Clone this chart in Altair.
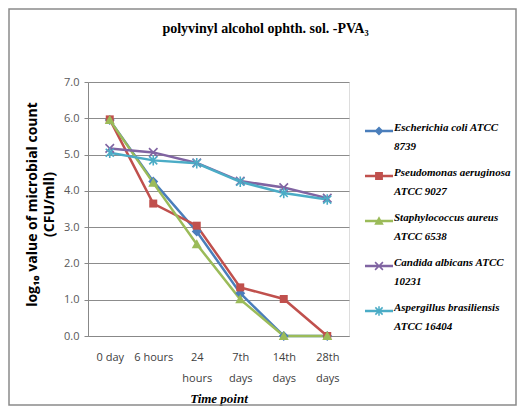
import math
import altair as alt
import pandas as pd

# ---------------- data ----------------
times = ["0 day", "6 hours", "24 hours", "7th days", "14th days", "28th days"]
series = [
    "Escherichia coli ATCC 8739",
    "Pseudomonas aeruginosa ATCC 9027",
    "Staphylococcus aureus ATCC 6538",
    "Candida albicans ATCC 10231",
    "Aspergillus brasiliensis ATCC 16404",
]
legend_lines = [
    ["Escherichia coli ATCC", "8739"],
    ["Pseudomonas aeruginosa", "ATCC 9027"],
    ["Staphylococcus aureus", "ATCC 6538"],
    ["Candida albicans ATCC", "10231"],
    ["Aspergillus brasiliensis", "ATCC 16404"],
]
ecoli = [5.95, 4.26, 2.88, 1.18, 0.0, 0.0]
pseudomonas = [5.97, 3.65, 3.04, 1.34, 1.02, 0.0]
staph = [5.95, 4.22, 2.53, 1.01, 0.0, 0.0]
candida = [5.17, 5.06, 4.77, 4.27, 4.09, 3.80]
aspergillus = [5.05, 4.84, 4.76, 4.25, 3.94, 3.76]
values = [ecoli, pseudomonas, staph, candida, aspergillus]
colors = ["#4A7EBB", "#C0504D", "#9BBB59", "#8064A2", "#4BACC6"]

rows = []
for s, vals in zip(series, values):
    for t, v in zip(times, vals):
        rows.append({"series": s, "time": t, "value": v})
df = pd.DataFrame(rows)

# ---------------- marker shapes (unit box [-1,1]) ----------------
def poly(pts):
    area = sum(pts[i][0] * pts[(i + 1) % len(pts)][1] - pts[(i + 1) % len(pts)][0] * pts[i][1]
               for i in range(len(pts)))
    if area < 0:
        pts = pts[::-1]
    return "M" + "L".join(f"{x:.3f},{y:.3f}" for x, y in pts) + "Z"

def bar(x1, y1, x2, y2, t):
    L = math.hypot(x2 - x1, y2 - y1)
    nx, ny = -(y2 - y1) / L * t, (x2 - x1) / L * t
    return poly([(x1 + nx, y1 + ny), (x2 + nx, y2 + ny), (x2 - nx, y2 - ny), (x1 - nx, y1 - ny)])

def diamond(s):
    return poly([(0, -s), (s, 0), (0, s), (-s, 0)])

def square(s):
    return poly([(-s, -s), (s, -s), (s, s), (-s, s)])

def triangle(s):
    return poly([(0, -s), (s, 0.8 * s), (-s, 0.8 * s)])

def xmark(s, t):
    return bar(-s, -s, s, s, t) + bar(-s, s, s, -s, t)

def asterisk(s, t):
    return xmark(s, t) + bar(0, -s * 1.3, 0, s * 1.3, t)

marker_paths = [diamond(1.0), square(0.8), triangle(1.0), xmark(0.85, 0.16), asterisk(0.8, 0.16)]
lb = bar(-1, 0, 1, 0, 0.09)
legend_paths = [
    lb + diamond(0.32),
    lb + square(0.28),
    lb + triangle(0.34),
    lb + xmark(0.28, 0.055),
    lb + asterisk(0.26, 0.055),
]

# legend label expression (two lines)
expr = "datum.label"
for s, ll in zip(series[::-1], legend_lines[::-1]):
    expr = f"datum.label == '{s}' ? ['{ll[0]}', '{ll[1]}'] : ({expr})"

x_label_expr = "datum.label == '0 day' || datum.label == '6 hours' ? datum.label : split(datum.label, ' ')"

W, H = 261, 254
PL, PT, PR, PB = 80, 74, 168, 70

x_enc = alt.X(
    "time:N",
    sort=times,
    scale=alt.Scale(type="point", padding=0.5),
    axis=alt.Axis(
        title="Time point",
        labelAngle=0,
        labelExpr=x_label_expr,
        labelFont="Open Sans",
        labelFontSize=11,
        labelColor="#404040",
        labelLineHeight=21,
        labelBaseline="top",
        labelPadding=15,
        ticks=False,
        tickSize=0,
        domainColor="#888888",
        domainWidth=1,
        titleFont="Liberation Serif",
        titleFontSize=13,
        titleFontWeight="bold",
        titleFontStyle="italic",
        titleY=62,
        titleBaseline="middle",
        titleColor="#000000",
    ),
)
y_enc = alt.Y(
    "value:Q",
    scale=alt.Scale(domain=[0, 7]),
    axis=alt.Axis(
        title=["log\u2081\u2080 value of microbial count", "(CFU/mll)"],
        values=[0, 1, 2, 3, 4, 5, 6, 7],
        format=".1f",
        labelFont="Open Sans",
        labelFontSize=11,
        labelColor="#595959",
        labelPadding=5,
        tickSize=4,
        tickColor="#888888",
        domainColor="#888888",
        gridColor="#8C8C8C",
        gridWidth=1,
        titleFont="Open Sans",
        titleFontSize=14,
        titleFontWeight="bold",
        titleColor="#000000",
        titleX=-56,
        titleY=122,
        titleAngle=-90,
        titleAlign="center",
        titleBaseline="middle",
        titleLineHeight=17,
    ),
)

base = alt.Chart(df).encode(x=x_enc, y=y_enc)

lines = base.mark_line(strokeWidth=2.5).encode(
    color=alt.Color("series:N", sort=series, scale=alt.Scale(domain=series, range=colors), legend=None),
    order=alt.Order("time_idx:Q"),
).transform_calculate(time_idx=f"indexof({times}, datum.time)")

points = base.mark_point(filled=True, size=100, opacity=1).encode(
    color=alt.Color("series:N", scale=alt.Scale(domain=series, range=colors), legend=None),
    shape=alt.Shape("series:N", scale=alt.Scale(domain=series, range=marker_paths), legend=None),
)

leg = alt.Legend(
    title=None,
    orient="none",
    legendX=277,
    legendY=35,
    labelExpr=expr,
    labelFont="Liberation Serif",
    labelFontSize=11,
    labelFontWeight="bold",
    labelFontStyle="italic",
    labelColor="#000000",
    labelBaseline="alphabetic",
    labelOffset=1,
    labelLimit=200,
    symbolSize=784,
    symbolOpacity=1,
    symbolStrokeWidth=0,
    rowPadding=10,
)

legend_layer = base.mark_point(filled=True, size=100, opacity=0).encode(
    color=alt.Color("series:N", scale=alt.Scale(domain=series, range=colors), legend=leg),
    shape=alt.Shape("series:N", scale=alt.Scale(domain=series, range=legend_paths), legend=leg),
)

frame = alt.Chart(alt.Data(values=[{"a": 1}])).mark_rect(
    fillOpacity=0, stroke="#8A8A8A", strokeWidth=1.5
).encode(
    x=alt.value(-PL + 1), x2=alt.value(W + PR - 1),
    y=alt.value(-PT + 1), y2=alt.value(H + PB - 1),
)

chart = (
    alt.layer(lines, points, legend_layer, frame)
    .resolve_scale(color="independent", shape="independent")
    .properties(
        width=W,
        height=H,
        autosize=alt.AutoSizeParams(type="none"),
        padding={"left": PL, "top": PT, "right": PR, "bottom": PB},
        title=alt.TitleParams(
            "polyvinyl  alcohol ophth.  sol. -PVA\u2083",
            font="Liberation Serif",
            fontSize=14,
            fontWeight="bold",
            color="#000000",
            anchor="middle",
            frame="group",
            baseline="bottom",
            dx=47,
            offset=-42,
        ),
    )
    .configure_view(stroke=None)
    .configure(background="white", style={"guide-label": {"lineHeight": 19}})
)

chart.save("out.html", embed_options={"renderer": "svg", "actions": False})
